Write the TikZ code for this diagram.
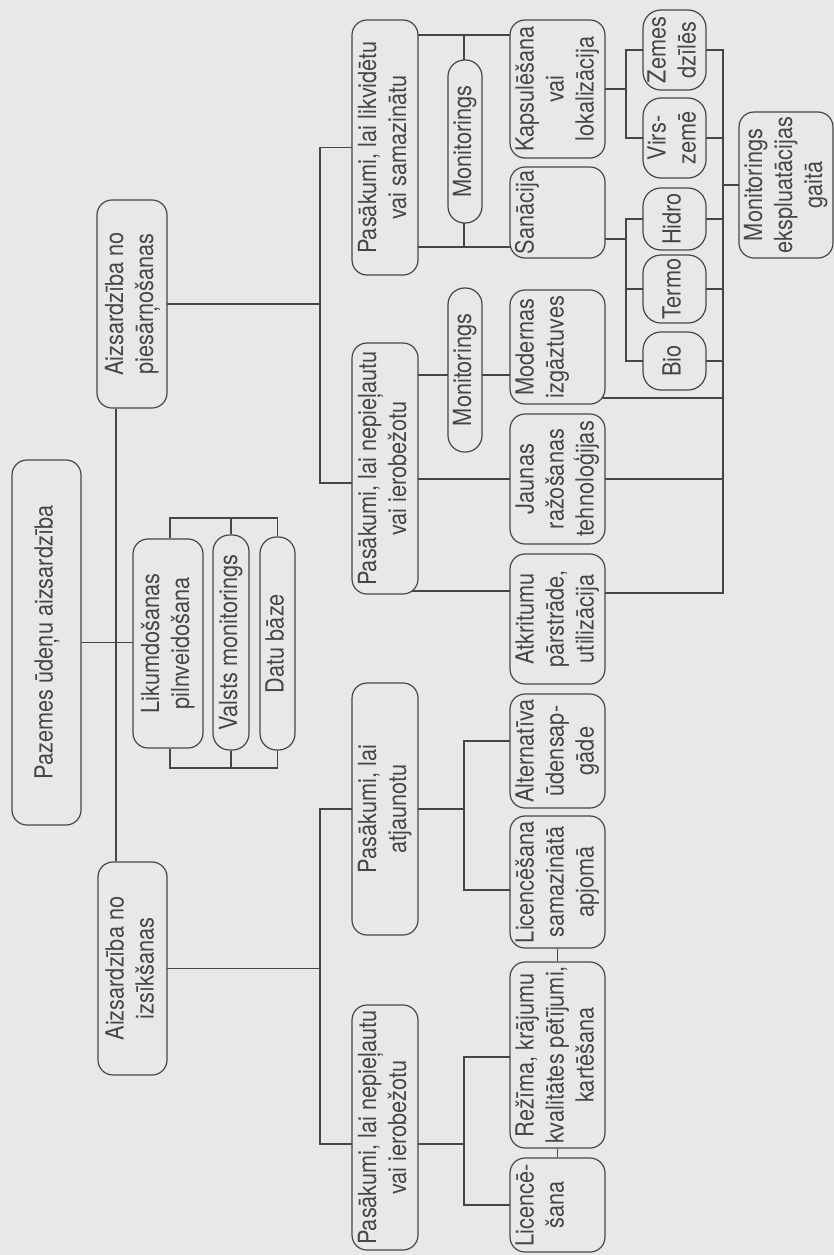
\documentclass[tikz,border=0pt]{standalone}
\usepackage{fontspec}
\setmainfont[FakeStretch=0.87]{TeX Gyre Heros}
\usetikzlibrary{calc}
\definecolor{paper}{RGB}{232,232,230}
\definecolor{ink}{RGB}{70,70,70}
\pgfdeclarelayer{paperlayer}
\pgfdeclarelayer{lines}
\pgfsetlayers{paperlayer,lines,main}
\newcommand{\rt}[1]{\rotatebox{90}{\begin{tabular}{@{}c@{}}#1\end{tabular}}}
\begin{document}
\begin{tikzpicture}[x=1pt,y=-1pt,
  font=\fontsize{25}{30}\selectfont,
  box/.style={draw=ink, line width=1.2pt, fill=paper, rounded corners=15pt, inner sep=0pt, text=ink},
  pill/.style={box, rounded corners=16.5pt},
  leaf/.style={box, rounded corners=18pt},
  conn/.style={draw=ink, line width=1.2pt}]
\useasboundingbox (0,0) rectangle (834,1255);
\begin{pgfonlayer}{paperlayer}
\fill[paper] (0,0) rectangle (834,1255);
\end{pgfonlayer}

% level 0 / 1
\node[box, minimum width=69pt, minimum height=365pt] (root) at (46.5,642.5) {\rt{Pazemes ūdeņu aizsardzība}};
\node[box, minimum width=70pt, minimum height=208pt] (A1) at (132,304) {\rt{Aizsardzība no\\piesārņošanas}};
\node[box, minimum width=69pt, minimum height=213pt] (A2) at (132.5,968.5) {\rt{Aizsardzība no\\izsīkšanas}};
\node[box, minimum width=70pt, minimum height=209pt] (L) at (168,643.5) {\rt{Likumdošanas\\pilnveidošana}};
\node[pill, minimum width=36pt, minimum height=215pt] (V) at (231,642.5) {\rt{Valsts monitorings}};
\node[pill, minimum width=35pt, minimum height=213pt] (D) at (277.5,643.5) {\rt{Datu bāze}};

% level 2
\node[box, minimum width=66pt, minimum height=255pt] (P1) at (385,147.5) {\rt{Pasākumi, lai likvidētu\\vai samazinātu}};
\node[box, minimum width=66pt, minimum height=251pt] (P2) at (385,468.5) {\rt{Pasākumi, lai nepieļautu\\vai ierobežotu}};
\node[box, minimum width=66pt, minimum height=252pt] (P3) at (385,809) {\rt{Pasākumi, lai\\atjaunotu}};
\node[box, minimum width=66pt, minimum height=245pt] (P4) at (385,1127.5) {\rt{Pasākumi, lai nepieļautu\\vai ierobežotu}};

% monitoring pills
\node[pill, minimum width=34pt, minimum height=163pt] (M1) at (465,141.5) {\rt{Monitorings}};
\node[pill, minimum width=34pt, minimum height=164pt] (M2) at (465,370) {\rt{Monitorings}};

% level 3
\node[box, minimum width=95pt, minimum height=138pt] (K) at (557.5,89) {\rt{Kapsulēšana\\vai\\lokalizācija}};
\node[box, minimum width=95pt, minimum height=91pt] (S) at (557.5,212.5) {\rt{Sanācija\\~\\~}};
\node[box, minimum width=95pt, minimum height=114pt] (Mod) at (557.5,347) {\rt{Modernas\\izgāztuves\\~}};
\node[box, minimum width=95pt, minimum height=130pt] (J) at (557.5,479) {\rt{Jaunas\\ražošanas\\tehnoloģijas}};
\node[box, minimum width=95pt, minimum height=130pt] (Atk) at (557.5,619) {\rt{Atkritumu\\pārstrāde,\\utilizācija}};
\node[box, minimum width=95pt, minimum height=114pt] (Alt) at (557.5,751) {\rt{Alternatīva\\ūdensap-\\gāde}};
\node[box, minimum width=95pt, minimum height=132pt] (LicS) at (557.5,882) {\rt{Licencēšana\\samazinātā\\apjomā}};
\node[box, minimum width=95pt, minimum height=186pt] (Rez) at (557.5,1055) {\rt{Režīma, krājumu\\kvalitātes pētījumi,\\kartēšana}};
\node[box, minimum width=95pt, minimum height=94pt] (Lic) at (557.5,1205) {\rt{Licencē-\\šana\\~}};

% level 4
\node[leaf, minimum width=63pt, minimum height=80pt] (Z) at (674.5,50) {\rt{Zemes\\dzīlēs}};
\node[leaf, minimum width=63pt, minimum height=80pt] (Vz) at (674.5,138) {\rt{Virs-\\zemē}};
\node[leaf, minimum width=63pt, minimum height=62pt] (H) at (674.5,219) {\rt{Hidro}};
\node[leaf, minimum width=63pt, minimum height=68pt] (T) at (674.5,289) {\rt{Termo}};
\node[leaf, minimum width=63pt, minimum height=58pt] (B) at (674.5,361) {\rt{Bio}};
\node[box, minimum width=94pt, minimum height=146pt] (ME) at (786,185) {\rt{Monitorings\\ekspluatācijas\\gaitā}};

% helper coordinates for bus lines
\coordinate (t1) at (116,0);
\coordinate (t2) at (320,0);
\coordinate (t3) at (464,0);
\coordinate (t4) at (626,0);
\coordinate (t5) at (723,0);
\coordinate (bt) at (0,518);
\coordinate (bb) at (0,768);
\coordinate (p2a) at (0,483);
\coordinate (p4a) at (0,1144);
\coordinate (yk) at (0,35);
\coordinate (ys) at (0,247);
\coordinate (ym) at (0,375);
\coordinate (ya) at (0,591);
\coordinate (yatk) at (0,593);
\coordinate (ysx) at (0,239);
\coordinate (ymod) at (0,398);
\coordinate (yalt) at (0,741);
\coordinate (ylics) at (0,890);
\coordinate (yrez) at (0,1057);
\coordinate (ylic) at (0,1205);

\begin{pgfonlayer}{lines}
% trunk
\draw[conn] (t1 |- A1.south) -- (t1 |- A2.north);
\draw[conn] (root.center) -- (L.center |- root.center);
% bracket
\draw[conn] (L.north -| 170,0) -- (bt -| 170,0) -- (D.north |- bt) -- (D.north);
\draw[conn] (V.north) -- (V.north |- bt);
\draw[conn] (L.south -| 170,0) -- (bb -| 170,0) -- (D.south |- bb) -- (D.south);
\draw[conn] (V.south) -- (V.south |- bb);
% level 2 trunks
\draw[conn] (P1.center) -- (P1.west -| t2) -- (t2 |- p2a) -- (P2.center |- p2a);
\draw[conn] (A1.center) -- (A1.east -| t2);
\draw[conn] (P3.center) -- (P3.west -| t2) -- (t2 |- p4a) -- (P4.center |- p4a);
\draw[conn] (A2.center) -- (A2.east -| t2);
% level 3 from P1
\draw[conn] (P1.center |- yk) -- (K.center |- yk);
\draw[conn] (P1.center |- ys) -- (S.center |- ys);
\draw[conn] (t3 |- yk) -- (t3 |- ys);
% from P2
\draw[conn] (P2.center |- ym) -- (Mod.center |- ym);
\draw[conn] (P2.center |- J.center) -- (J.center);
\draw[conn] (P2.center |- ya) -- (Atk.center |- ya);
% from P3
\draw[conn] (P3.center) -- (P3.center -| t3);
\draw[conn] (Alt.center |- yalt) -| (t3 |- ylics) -- (LicS.center |- ylics);
% from P4
\draw[conn] (P4.center |- p4a) -- (t3 |- p4a);
\draw[conn] (Rez.center |- yrez) -| (t3 |- ylic) -- (Lic.center |- ylic);
\draw[conn] (LicS.south) -- (Rez.north);
\draw[conn] (Rez.south) -- (Lic.north);
% level 4
\draw[conn] (K.center) -- (K.east -| t4);
\draw[conn] (Z.center) -| (t4 |- Vz.center) -- (Vz.center);
\draw[conn] (S.center |- ysx) -- (t4 |- ysx);
\draw[conn] (H.center) -| (t4 |- B.center) -- (B.center);
\draw[conn] (T.center) -- (T.center -| t4);
% right bus
\draw[conn] (Z.center) -| (t5 |- yatk) -- (Atk.center |- yatk);
\draw[conn] (Vz.center) -- (Vz.center -| t5);
\draw[conn] (H.center) -- (H.center -| t5);
\draw[conn] (T.center) -- (T.center -| t5);
\draw[conn] (B.center) -- (B.center -| t5);
\draw[conn] (Mod.center |- ymod) -- (t5 |- ymod);
\draw[conn] (J.center) -- (J.center -| t5);
\draw[conn] (ME.center) -- (ME.center -| t5);
\end{pgfonlayer}
\end{tikzpicture}
\end{document}
